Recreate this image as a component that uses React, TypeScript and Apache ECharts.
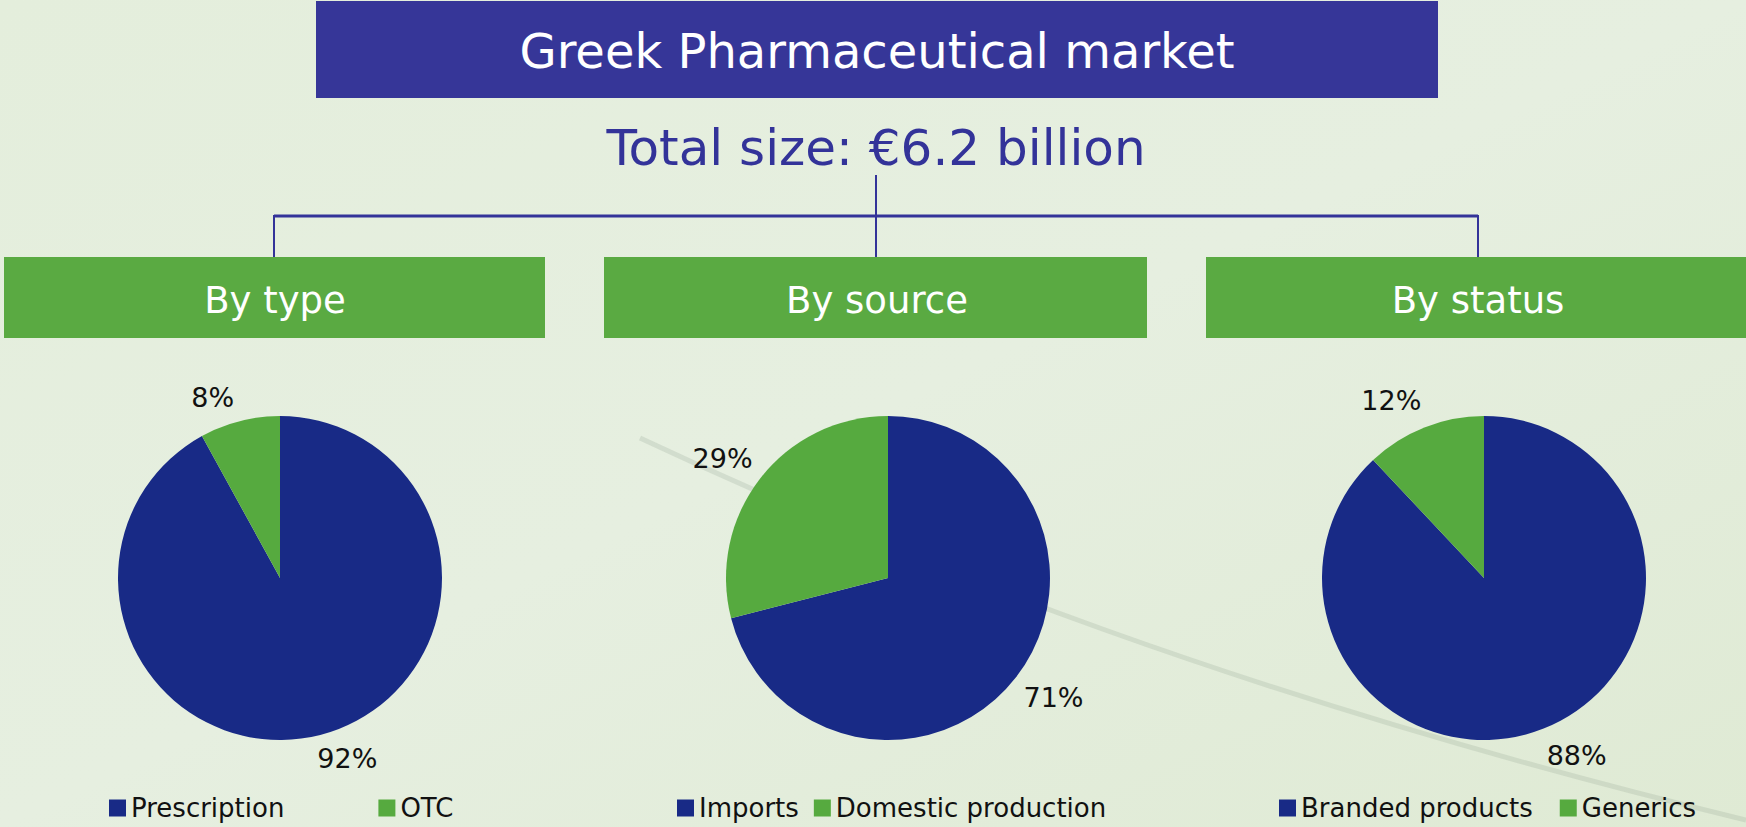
import React, { useEffect, useRef } from "react";
import * as echarts from "echarts";

const TITLE = "Greek Pharmaceutical market";
const SUBTITLE = "Total size: €6.2 billion";
const GROUPS = ["By type", "By source", "By status"];

const typeNames = ["Prescription", "OTC"];
const typeValues = [92, 8];
const sourceNames = ["Imports", "Domestic production"];
const sourceValues = [71, 29];
const statusNames = ["Branded products", "Generics"];
const statusValues = [88, 12];

const NAVY = "#182a86";
const GREEN = "#56aa3f";
const FONT = "DejaVu Sans";

const pies = [
  { names: typeNames, values: typeValues, center: [280, 578], legendLeft: 109, gap: 94, labelR: 193, labelTurn: 6 },
  { names: sourceNames, values: sourceValues, center: [888, 578], legendLeft: 677, gap: 15, labelR: 204, labelTurn: 2 },
  { names: statusNames, values: statusValues, center: [1484, 578], legendLeft: 1279, gap: 27, labelR: 200, labelTurn: 6 },
];

export default function App() {
  const ref = useRef<HTMLDivElement>(null);
  useEffect(() => {
    if (!ref.current) return;
    const chart = echarts.init(ref.current, null, { renderer: "svg" });

    const series: any[] = [];
    const legends: any[] = [];
    pies.forEach((p, i) => {
      const data = p.names.map((n, k) => ({ name: n, value: p.values[k] }));
      series.push({
        type: "pie",
        name: GROUPS[i],
        center: p.center,
        radius: [0, 162],
        startAngle: 90,
        clockwise: true,
        color: [NAVY, GREEN],
        data,
        label: { show: false },
        labelLine: { show: false },
        silent: true,
        emphasis: { disabled: true },
        z: 3,
      });
      // invisible ring used only to position the percentage labels (Excel-like placement)
      const mid = p.labelR - 3;
      series.push({
        type: "pie",
        name: GROUPS[i] + " labels",
        center: p.center,
        radius: [mid - 6, mid + 6],
        startAngle: 90 + p.labelTurn,
        clockwise: true,
        data: data.map((d) => ({ ...d, itemStyle: { color: "rgba(0,0,0,0)" } })),
        label: {
          show: true,
          position: "inside",
          formatter: "{c}%",
          color: "#111",
          fontFamily: FONT,
          fontSize: 27,
        },
        labelLine: { show: false },
        silent: true,
        emphasis: { disabled: true },
        z: 4,
      });
      legends.push({
        data: p.names,
        left: p.legendLeft,
        top: 795,
        padding: 0,
        itemGap: p.gap,
        itemWidth: 17,
        itemHeight: 17,
        icon: "rect",
        selectedMode: false,
        textStyle: { fontFamily: FONT, fontSize: 26, color: "#111", lineHeight: 18 },
      });
    });

    const lineColor = "#333399";
    const graphic: any[] = [
      {
        type: "bezierCurve",
        z: 0,
        shape: { x1: 640, y1: 438, x2: 1746, y2: 820, cpx1: 900, cpy1: 560, cpx2: 1250, cpy2: 700 },
        style: { stroke: "rgba(140,160,140,0.22)", lineWidth: 5, fill: null },
      },
      {
        type: "rect",
        z: 1,
        shape: { x: 316, y: 1, width: 1122, height: 97 },
        style: { fill: "#363698" },
      },
      {
        type: "text",
        z: 2,
        x: 877,
        y: 51,
        style: { text: TITLE, fill: "#ffffff", fontFamily: FONT, fontSize: 48, align: "center", verticalAlign: "middle" },
      },
      {
        type: "text",
        z: 2,
        x: 876,
        y: 148,
        style: { text: SUBTITLE, fill: lineColor, fontFamily: FONT, fontSize: 50, align: "center", verticalAlign: "middle" },
      },
      { type: "line", z: 1, shape: { x1: 876, y1: 175, x2: 876, y2: 258 }, style: { stroke: lineColor, lineWidth: 2 } },
      { type: "line", z: 1, shape: { x1: 274, y1: 216, x2: 1478, y2: 216 }, style: { stroke: lineColor, lineWidth: 3 } },
      { type: "line", z: 1, shape: { x1: 274, y1: 215, x2: 274, y2: 258 }, style: { stroke: lineColor, lineWidth: 2 } },
      { type: "line", z: 1, shape: { x1: 1478, y1: 215, x2: 1478, y2: 258 }, style: { stroke: lineColor, lineWidth: 2 } },
    ];
    const boxes = [
      [4, 541],
      [604, 543],
      [1206, 544],
    ];
    const centers = [275, 877, 1478];
    boxes.forEach((b, i) => {
      graphic.push({
        type: "rect",
        z: 1,
        shape: { x: b[0], y: 257, width: b[1], height: 81 },
        style: { fill: "#5aaa42" },
      });
      graphic.push({
        type: "text",
        z: 2,
        x: centers[i],
        y: 300,
        style: { text: GROUPS[i], fill: "#ffffff", fontFamily: FONT, fontSize: 37, align: "center", verticalAlign: "middle" },
      });
    });

    chart.setOption({
      animation: false,
      backgroundColor: {
        type: "linear",
        x: 0,
        y: 0,
        x2: 1,
        y2: 1,
        colorStops: [
          { offset: 0, color: "#e4eedc" },
          { offset: 0.5, color: "#e6efe0" },
          { offset: 1, color: "#dfead4" },
        ],
      },
      graphic,
      legend: legends,
      series,
    });
    return () => chart.dispose();
  }, []);
  return (
    <div
      ref={ref}
      style={{ position: "absolute", left: 0, top: 0, width: 1746, height: 827 }}
    />
  );
}
